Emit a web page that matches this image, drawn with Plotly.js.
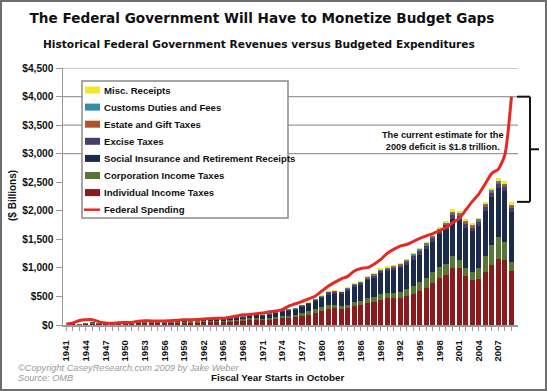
<!DOCTYPE html>
<html>
<head>
<meta charset="utf-8">
<script src="https://cdn.plot.ly/plotly-3.0.1.min.js"></script>
<style>
html,body{margin:0;padding:0;background:#fff;}
#wrap{width:547px;height:391px;box-sizing:border-box;border:2px solid #6e6e6e;overflow:hidden;}
#chart{width:543px;height:387px;}
</style>
</head>
<body>
<div id="wrap"><div id="chart"></div></div>
<script>
// Fiscal years
const years = [1941,1942,1943,1944,1945,1946,1947,1948,1949,1950,
1951,1952,1953,1954,1955,1956,1957,1958,1959,1960,
1961,1962,1963,1964,1965,1966,1967,1968,1969,1970,
1971,1972,1973,1974,1975,1976,1977,1978,1979,1980,
1981,1982,1983,1984,1985,1986,1987,1988,1989,1990,
1991,1992,1993,1994,1995,1996,1997,1998,1999,2000,
2001,2002,2003,2004,2005,2006,2007,2008,2009];

// Tick label years (every third year)
const labelYears = [1941,1944,1947,1950,1953,1956,1959,1962,1965,1968,1971,1974,1977,1980,1983,1986,1989,1992,1995,1998,2001,2004,2007];

// Receipts by source ($ billions)
const individual = [1.3,3.3,6.5,19.7,18.4,16.1,17.9,19.3,15.6,15.8,
21.6,27.9,29.8,29.5,28.7,32.2,35.6,34.7,36.7,40.7,
41.3,45.6,47.6,48.7,48.8,55.4,61.5,68.7,87.2,90.4,
86.2,94.7,103.2,119.0,122.4,131.6,157.6,181.0,217.8,244.1,
285.9,297.7,288.9,298.4,334.5,349.0,392.6,401.2,445.7,466.9,
467.8,476.0,509.7,543.1,590.2,656.4,737.5,828.6,879.5,1004.5,
994.3,858.3,793.7,809.0,927.2,1043.9,1163.5,1145.7,953.0];

const corporation = [1.9,4.7,9.6,14.8,16.0,11.9,8.6,9.7,11.2,10.4,
14.1,21.2,21.2,21.1,17.9,20.9,21.2,20.1,17.3,21.5,
21.0,20.5,21.6,23.5,25.5,30.1,34.0,28.7,36.7,32.8,
26.8,32.2,36.2,38.6,40.6,41.4,54.9,60.0,65.7,64.6,
61.1,49.2,37.0,56.9,61.3,63.1,83.9,94.5,103.3,93.5,
98.1,100.3,117.5,140.4,157.0,171.8,182.3,188.7,184.7,207.3,
151.1,148.0,131.8,189.4,278.3,353.9,370.2,304.3,142.0];

const socialInsurance = [1.9,2.5,3.0,3.5,3.5,3.1,3.4,3.8,3.8,4.3,
5.7,6.4,6.8,7.2,7.9,9.3,10.0,11.2,11.7,14.7,
16.4,17.0,19.8,22.0,22.2,25.5,32.6,33.9,39.0,44.4,
47.3,52.6,63.1,75.1,84.5,90.8,106.5,121.0,138.9,157.8,
182.7,201.5,209.0,239.4,265.2,283.9,303.3,334.3,359.4,380.0,
396.0,413.7,428.3,461.5,484.5,509.4,539.4,571.8,611.8,652.9,
694.0,700.8,713.0,733.4,794.1,837.8,869.6,900.2,891.0];

const excise = [2.6,3.0,3.8,4.5,6.0,6.7,7.2,7.4,7.5,7.6,
8.6,8.9,9.9,9.9,9.1,10.0,11.0,10.6,10.6,11.7,
11.9,12.5,13.2,13.7,14.6,13.1,13.7,14.1,15.2,15.7,
16.6,15.5,16.3,16.8,16.6,17.0,17.5,18.4,18.7,24.3,
40.8,36.3,35.3,37.4,36.0,32.9,32.5,35.2,34.4,35.3,
42.4,45.6,48.1,55.2,57.5,54.0,56.9,57.7,70.4,68.9,
66.2,67.0,67.5,69.9,73.1,74.0,65.1,67.3,66.0];

const estateGift = [0.4,0.4,0.4,0.5,0.6,0.7,0.8,0.9,0.8,0.7,
0.7,0.8,0.9,0.9,0.9,1.2,1.4,1.4,1.3,1.6,
1.9,2.0,2.2,2.4,2.7,3.1,3.0,3.1,3.5,3.6,
3.7,5.4,4.9,5.0,4.6,5.2,7.3,5.3,5.4,6.4,
6.8,8.0,6.1,6.0,6.4,7.0,7.5,7.6,8.7,11.5,
11.1,11.1,12.6,15.2,14.8,17.2,19.8,24.1,27.8,29.0,
28.4,26.5,22.0,24.8,24.8,27.9,26.0,28.8,25.0];

const customs = [0.4,0.4,0.3,0.4,0.3,0.4,0.5,0.4,0.4,0.4,
0.6,0.5,0.6,0.6,0.6,0.7,0.8,0.8,0.9,1.1,
1.0,1.2,1.2,1.3,1.4,1.8,1.9,2.0,2.3,2.4,
2.6,3.3,3.2,3.3,3.7,4.1,5.2,6.6,7.4,7.2,
8.1,8.9,8.7,11.4,12.1,13.3,15.1,16.2,16.3,16.7,
15.9,17.4,18.8,20.1,19.3,18.7,17.9,18.3,18.3,19.9,
19.4,18.6,19.9,21.1,23.4,24.8,26.0,27.6,23.0];

const miscReceipts = [0.1,0.3,0.4,0.4,0.3,0.4,0.1,0.1,0.1,0.3,
0.3,0.5,0.4,0.5,0.4,0.3,0.1,0.8,0.7,1.2,
0.9,0.8,1.0,1.0,1.6,1.8,2.1,2.5,2.9,3.5,
3.9,3.7,3.9,5.4,6.6,8.0,6.5,7.4,9.3,12.7,
13.8,16.1,15.5,17.0,18.5,19.9,19.4,20.2,23.3,28.1,
23.7,27.1,19.4,23.2,28.6,25.6,25.5,32.6,34.9,42.8,
37.7,33.9,34.4,32.6,32.7,44.6,47.6,50.1,56.0];

// Federal outlays ($ billions)
const spending = [13.7,35.1,78.6,91.3,92.7,55.2,34.5,29.8,38.8,42.6,
45.5,67.7,76.1,70.9,68.4,70.6,76.6,82.4,92.1,92.2,
97.7,106.8,111.3,118.5,118.2,134.5,157.5,178.1,183.6,195.6,
210.2,230.7,245.7,269.4,332.3,371.8,409.2,458.7,504.0,590.9,
678.2,745.7,808.4,851.8,946.3,990.4,1004.0,1064.4,1143.7,1253.0,
1324.2,1381.5,1409.4,1461.8,1515.7,1560.5,1601.1,1652.5,1701.8,1789.0,
1862.8,2010.9,2159.9,2292.8,2472.0,2655.1,2728.7,2982.5,3997.8];

const gridValues = [3000,3500,4000,4500];

const FONT = "'Liberation Sans','Arial',sans-serif";

const series = [
  {name:'Individual Income Taxes', y:individual, color:'#8a1a1c', rank:7},
  {name:'Corporation Income Taxes', y:corporation, color:'#5a7634', rank:6},
  {name:'Social Insurance and Retirement Receipts', y:socialInsurance, color:'#1b2a4a', rank:5},
  {name:'Excise Taxes', y:excise, color:'#4b3d6b', rank:4},
  {name:'Estate and Gift Taxes', y:estateGift, color:'#b0542c', rank:3},
  {name:'Customs Duties and Fees', y:customs, color:'#3a8aae', rank:2},
  {name:'Misc. Receipts', y:miscReceipts, color:'#f2e827', rank:1}
];
const spendingName = 'Federal Spending';
const spendingColor = '#e42a27';

const traces = series.map(s => ({
  type:'bar', x:years, y:s.y, name:s.name,
  marker:{color:s.color, line:{width:0}}, hoverinfo:'skip'
}));
traces.push({
  type:'scatter', mode:'lines', x:years, y:spending, name:spendingName,
  line:{color:spendingColor, width:3, shape:'spline', smoothing:0.6}, hoverinfo:'skip'
});

// plot-area geometry helpers (div pixels -> paper)
const M = {l:61, r:27, t:66, b:64}, W = 543, H = 387;
const PW = W - M.l - M.r, PH = H - M.t - M.b;
const px = x => (x - M.l) / PW;
const py = y => 1 - (y - M.t) / PH;

const last = years.length - 1;
const receiptsLast = series.reduce((a,s)=>a + s.y[last], 0);
const spendLast = spending[last];
const midLast = (receiptsLast + spendLast)/2;

const shapes = gridValues.map(v => ({
  type:'line', xref:'paper', yref:'y', x0:0, x1:1, y0:v, y1:v,
  line:{color:'#9a9a9a', width:1.2}, layer:'below'
}));
const bx0 = px(515), bx1 = px(528), bx2 = px(537);
shapes.push(
  {type:'line', xref:'paper', yref:'y', x0:bx0, x1:bx1, y0:spendLast, y1:spendLast, line:{color:'#111', width:2}},
  {type:'line', xref:'paper', yref:'y', x0:bx1, x1:bx1, y0:receiptsLast, y1:spendLast, line:{color:'#111', width:2}},
  {type:'line', xref:'paper', yref:'y', x0:bx0, x1:bx1, y0:receiptsLast, y1:receiptsLast, line:{color:'#111', width:2}},
  {type:'line', xref:'paper', yref:'y', x0:bx1, x1:bx2, y0:midLast, y1:midLast, line:{color:'#111', width:2}}
);

// legend box (drawn from the series list)
const legendItems = series.slice().sort((a,b)=>a.rank-b.rank)
  .map(s => ({name:s.name, color:s.color, kind:'bar'}))
  .concat([{name:spendingName, color:spendingColor, kind:'line'}]);
const LX0 = 80, LX1 = 286, LY0 = 79, LY1 = 216, ROW0 = 88, ROWH = 17.1;
shapes.push({type:'rect', xref:'paper', yref:'paper', x0:px(LX0), x1:px(LX1), y0:py(LY1), y1:py(LY0),
  fillcolor:'#fff', line:{color:'#8a8a8a', width:1.5}, layer:'above'});
const annotations = [];
legendItems.forEach((it, i) => {
  const cy = ROW0 + ROWH * i;
  if (it.kind === 'bar') {
    shapes.push({type:'rect', xref:'paper', yref:'paper', x0:px(83), x1:px(98), y0:py(cy+3.5), y1:py(cy-3.5),
      fillcolor:it.color, line:{width:0}, layer:'above'});
  } else {
    shapes.push({type:'line', xref:'paper', yref:'paper', x0:px(82), x1:px(98), y0:py(cy), y1:py(cy),
      line:{color:it.color, width:2.5}, layer:'above'});
  }
  annotations.push({text:it.name, xref:'paper', yref:'paper', x:px(99.5), y:py(cy), xanchor:'left', yanchor:'middle',
    showarrow:false, font:{family:FONT, size:9.6, weight:'bold', color:'#111'}});
});

annotations.push(
  {text:'Historical Federal Government Revenues versus Budgeted Expenditures',
   xref:'paper', yref:'paper', x:px(257), y:py(42), showarrow:false, xanchor:'center', yanchor:'middle',
   font:{family:'DejaVu Sans', size:10.6, weight:'bold', color:'#111'}},
  {text:'($ Billions)', xref:'paper', yref:'paper', x:px(10), y:py(194), textangle:-90, showarrow:false,
   xanchor:'center', yanchor:'middle', font:{family:FONT, size:10, weight:'bold', color:'#111'}},
  {text:'Fiscal Year Starts in October', xref:'paper', yref:'paper', x:px(275), y:py(375), showarrow:false,
   xanchor:'center', yanchor:'middle', font:{family:FONT, size:9.8, weight:'bold', color:'#111'}},
  {text:'©Copyright CaseyResearch.com 2009 by Jake Weber', xref:'paper', yref:'paper', x:px(14), y:py(366),
   showarrow:false, xanchor:'left', yanchor:'middle', font:{family:FONT, size:9.2, style:'italic', color:'#9a9a9a'}},
  {text:'Source: OMB', xref:'paper', yref:'paper', x:px(14), y:py(376),
   showarrow:false, xanchor:'left', yanchor:'middle', font:{family:FONT, size:9.2, style:'italic', color:'#9a9a9a'}},
  {text:'The current estimate for the<br>2009 deficit is $1.8 trillion.', xref:'paper', yref:'paper',
   x:px(441), y:py(139), showarrow:false, xanchor:'center', yanchor:'middle', align:'center',
   font:{family:FONT, size:9.2, weight:'bold', color:'#111'}}
);

const layout = {
  width:W, height:H,
  margin:M,
  paper_bgcolor:'#fff', plot_bgcolor:'#fff',
  barmode:'stack', bargap:0.22,
  showlegend:false,
  title:{text:'The Federal Government Will Have to Monetize Budget Gaps',
    font:{family:'DejaVu Sans', size:13.6, weight:'bold', color:'#111'},
    xref:'paper', yref:'container', x:px(260), y:1 - 16/H, xanchor:'center', yanchor:'middle', pad:{t:0,b:0,l:0,r:0}},
  xaxis:{
    range:[1940.5, 2010], tickmode:'array', tickvals:years,
    ticktext:years.map(y => labelYears.includes(y) ? String(y) : ''),
    tickangle:-90, ticks:'outside', ticklen:4, tickcolor:'#999', tickwidth:1,
    showline:true, linecolor:'#999', linewidth:1.5, showgrid:false, zeroline:false,
    tickfont:{family:FONT, size:9.5, weight:'bold', color:'#111'},
    ticklabelstandoff:6, automargin:false, fixedrange:true
  },
  yaxis:{
    range:[0, 4500], dtick:500, tick0:0, tickprefix:'$', tickformat:',d',
    ticks:'outside', ticklen:6, tickcolor:'#999', tickwidth:1,
    showline:true, linecolor:'#999', linewidth:1.5, showgrid:false, zeroline:false,
    tickfont:{family:FONT, size:10.2, weight:'bold', color:'#111'},
    automargin:false, fixedrange:true
  },
  shapes:shapes,
  annotations:annotations
};

Plotly.newPlot('chart', traces, layout, {displayModeBar:false, staticPlot:true});
</script>
</body>
</html>
